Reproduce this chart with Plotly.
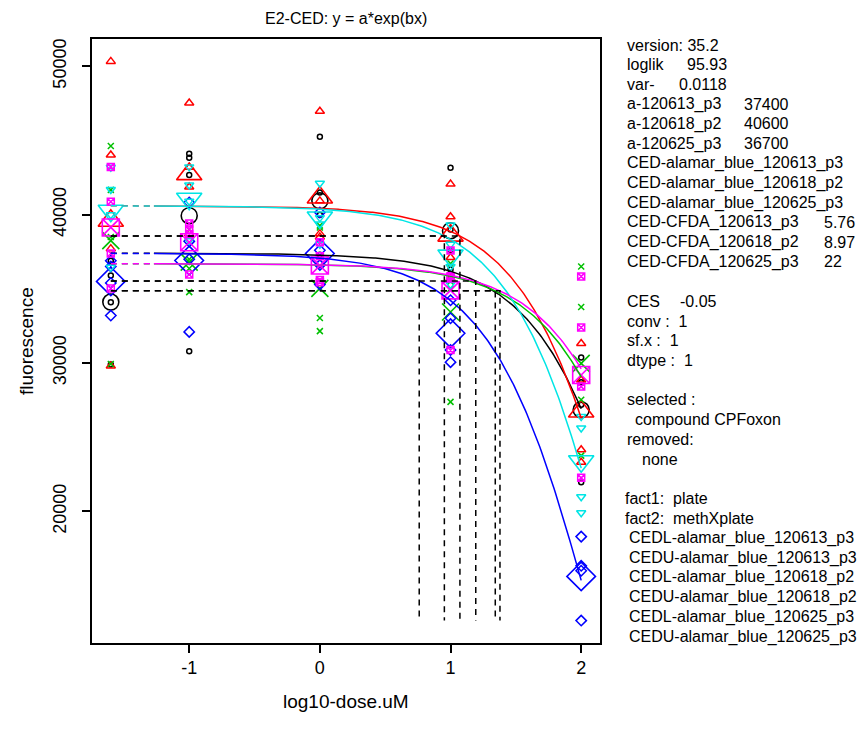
import numpy as np
import plotly.graph_objects as go

# ---------------- data ----------------
log_dose = [-1.6, -1, 0, 1, 2]          # plotted log10 dose (control shown at -1.6)

series_names = ["alamar_blue_120613_p3", "alamar_blue_120618_p2", "CFDA_120625_p3",
                "CFDA_120613_p3", "CFDA_120618_p2", "alamar_blue_120625_p3"]
colors = ["#000000", "#FF0000", "#00C000", "#0000FF", "#00E5E5", "#FF00FF"]
symbols = ["circle-open", "triangle-up-open", "x-thin-open", "diamond-open",
           "triangle-down-open", "square-x-open"]

# individual observations per dose (4 per dose)
obs_black = [[36900, 35900, 34100, 29900], [44100, 43840, 42680, 30800],
             [45250, 41500, 40000, 37300], [43170, 39000, 37600, 36300],
             [30380, 28700, 27180, 21970]]
obs_red = [[50330, 44020, 37710, 29800], [47530, 43200, 41870, 38720],
           [46970, 40930, 38720, 38500], [42060, 39860, 37110, 35700],
           [31320, 28860, 24160, 23310]]
obs_green = [[44630, 41670, 38500, 29930], [39000, 37000, 36370, 34780],
             [39260, 39140, 33040, 32150], [36710, 35500, 35000, 27380],
             [36510, 33780, 27520, 23760]]
obs_blue = [[36900, 36500, 35400, 33200], [40820, 38200, 37000, 32100],
            [40150, 37600, 36600, 35300], [34230, 33020, 30880, 30060],
            [18300, 16330, 16000, 12640]]
obs_cyan = [[43200, 41700, 40000, 36460], [43220, 42000, 40900, 38250],
            [42120, 39800, 39370, 38000], [39300, 38000, 36500, 35300],
            [26390, 25620, 20990, 19910]]
obs_magenta = [[43220, 40870, 37380, 35030], [39400, 39000, 38700, 35970],
               [38140, 37200, 35600, 35450], [37580, 35850, 35790, 30870],
               [35840, 32390, 28410, 22260]]

# group means (large symbols)
mean_black = [34110, 39930, 40930, 38920, 26850]
mean_red = [39590, 42730, 41160, 38590, 26730]
mean_green = [38250, 36800, 35030, 33440, 29980]
mean_blue = [35500, 36910, 37380, 32010, 15620]
mean_cyan = [40260, 41070, 39810, 37240, 23380]
mean_magenta = [39140, 38140, 36570, 34900, 29190]

# fitted model parameters y = a*exp(b*dose), b from CED at CES
a_values = [37400, 40600, 36700, 37400, 40600, 36700]
ced_values = [15.6, 11.8, 22.0, 5.76, 8.97, 23.9]
CES = -0.05

y_ticks = [20000, 30000, 40000, 50000]
x_ticks = [-1, 0, 1, 2]

all_obs = [obs_black, obs_red, obs_green, obs_blue, obs_cyan, obs_magenta]
all_means = [mean_black, mean_red, mean_green, mean_blue, mean_cyan, mean_magenta]

# ---------------- figure ----------------
W, H = 861, 733
L, R, T, B = 92, 600, 39, 643
x_range = [-1.744, 2.144]
y_range = [11130, 51840]

def xp(px):
    return (px - L) / (R - L)

def yp(py):
    return (B - py) / (B - T)

fig = go.Figure()

small_size = {"circle-open": 5, "triangle-up-open": 8, "x-thin-open": 6,
              "diamond-open": 8, "triangle-down-open": 8, "square-x-open": 7}
big_size = {"circle-open": 16, "triangle-up-open": 22, "x-thin-open": 17,
            "diamond-open": 22, "triangle-down-open": 22, "square-x-open": 17}

for obs, means, col, sym in zip(all_obs, all_means, colors, symbols):
    xs, ys = [], []
    for xd, vals in zip(log_dose, obs):
        for v in vals:
            xs.append(xd)
            ys.append(v)
    fig.add_trace(go.Scatter(x=xs, y=ys, mode="markers", showlegend=False,
                             marker=dict(symbol=sym, size=small_size[sym], color=col,
                                         line=dict(color=col, width=1.5))))
    fig.add_trace(go.Scatter(x=log_dose, y=means, mode="markers", showlegend=False,
                             marker=dict(symbol=sym, size=big_size[sym], color=col,
                                         line=dict(color=col, width=1.6))))

# fitted curves
x_break = -1.27
for a, ced, col in zip(a_values, ced_values, colors):
    b = np.log(1 + CES) / ced
    xd = np.linspace(log_dose[0], x_break, 30)
    fig.add_trace(go.Scatter(x=xd, y=a * np.exp(b * 10 ** xd), mode="lines", showlegend=False,
                             line=dict(color=col, width=1.5, dash="6px,5px")))
    xs = np.linspace(x_break, log_dose[-1], 300)
    fig.add_trace(go.Scatter(x=xs, y=a * np.exp(b * 10 ** xs), mode="lines", showlegend=False,
                             line=dict(color=col, width=1.5)))

# CED construction lines
y_min = min(v for obs in all_obs for row in obs for v in row)
for a, ced in zip(a_values, ced_values):
    lvl = a * (1 + CES)
    xc = np.log10(ced)
    fig.add_trace(go.Scatter(x=[log_dose[0], xc, xc], y=[lvl, lvl, y_min], mode="lines",
                             showlegend=False,
                             line=dict(color="black", width=1.5, dash="6px,5px")))

font = "Liberation Sans, Arial, sans-serif"

fig.update_layout(
    width=W, height=H, autosize=False,
    margin=dict(l=L, r=W - R, t=T, b=H - B, pad=0),
    paper_bgcolor="white", plot_bgcolor="white",
    font=dict(family=font, color="black", size=17),
    xaxis=dict(range=x_range, tickvals=x_ticks, ticktext=[str(t) for t in x_ticks],
               ticks="outside", ticklen=8, tickwidth=1.5, tickcolor="black",
               showline=True, linecolor="black", linewidth=1.5, mirror=True,
               showgrid=False, zeroline=False, tickfont=dict(size=18)),
    yaxis=dict(range=y_range, tickvals=y_ticks, ticktext=[str(t) for t in y_ticks],
               tickangle=-90, ticks="outside", ticklen=8, tickwidth=1.5, tickcolor="black",
               showline=True, linecolor="black", linewidth=1.5, mirror=True,
               showgrid=False, zeroline=False, tickfont=dict(size=18),
               ticklabelstandoff=9),
)

ann = []
ann.append(dict(text="E2-CED: y = a*exp(bx)", x=xp(346), y=yp(18), xanchor="center",
                yanchor="middle", font=dict(size=16)))
ann.append(dict(text="log10-dose.uM", x=xp(346), y=yp(701), xanchor="center",
                yanchor="middle", font=dict(size=19)))
ann.append(dict(text="fluorescence", x=xp(26), y=yp(341), xanchor="center",
                yanchor="middle", textangle=-90, font=dict(size=19)))

NB = "\u00a0"
legend_lines = [
    (625, "version: 35.2", None, None),
    (625, "loglik", 685, "95.93"),
    (625, "var-", 677, "0.0118"),
    (625, "a-120613_p3", 742, "37400"),
    (625, "a-120618_p2", 742, "40600"),
    (625, "a-120625_p3", 742, "36700"),
    (625, "CED-alamar_blue_120613_p3", None, None),
    (625, "CED-alamar_blue_120618_p2", None, None),
    (625, "CED-alamar_blue_120625_p3", None, None),
    (625, "CED-CFDA_120613_p3", 822, "5.76"),
    (625, "CED-CFDA_120618_p2", 822, "8.97"),
    (625, "CED-CFDA_120625_p3", 822, "22"),
    (None, None, None, None),
    (625, "CES", 678, "-0.05"),
    (625, "conv" + NB + ":" + NB + NB + "1", None, None),
    (625, "sf.x" + NB + ":" + NB + NB + "1", None, None),
    (625, "dtype" + NB + ":" + NB + NB + "1", None, None),
    (None, None, None, None),
    (625, "selected" + NB + ":", None, None),
    (633, "compound CPFoxon", None, None),
    (625, "removed:", None, None),
    (640, "none", None, None),
    (None, None, None, None),
    (623, "fact1:" + NB + NB + "plate", None, None),
    (623, "fact2:" + NB + NB + "methXplate", None, None),
    (627, "CEDL-alamar_blue_120613_p3", None, None),
    (627, "CEDU-alamar_blue_120613_p3", None, None),
    (627, "CEDL-alamar_blue_120618_p2", None, None),
    (627, "CEDU-alamar_blue_120618_p2", None, None),
    (627, "CEDL-alamar_blue_120625_p3", None, None),
    (627, "CEDU-alamar_blue_120625_p3", None, None),
]
y0, dy = 45, 19.72
for i, (x1, t1, x2, t2) in enumerate(legend_lines):
    yy = y0 + i * dy
    if t1:
        ann.append(dict(text=t1, x=xp(x1), y=yp(yy), xanchor="left", yanchor="middle",
                        font=dict(size=16)))
    if t2:
        ann.append(dict(text=t2, x=xp(x2), y=yp(yy), xanchor="left", yanchor="middle",
                        font=dict(size=16)))

for a_ in ann:
    a_.update(xref="paper", yref="paper", showarrow=False)
fig.update_layout(annotations=ann)

fig.write_html("out.html")
